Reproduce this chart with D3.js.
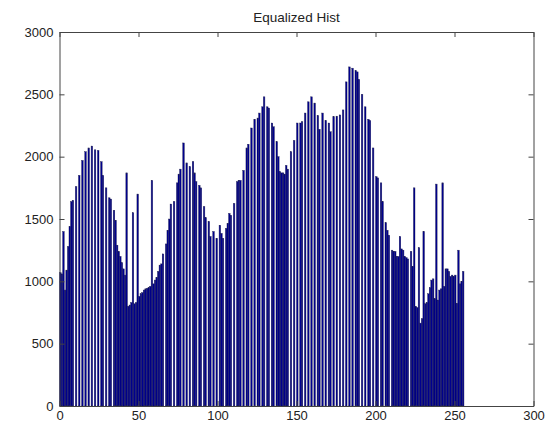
<!DOCTYPE html>
<html>
<head>
<meta charset="utf-8">
<script src="https://cdn.jsdelivr.net/npm/d3@7"></script>
<style>
  body { margin: 0; background: #fff; }
  svg { display: block; }
  text { font-family: "Liberation Sans", Arial, Helvetica, sans-serif; fill: #222; }
</style>
</head>
<body>
<svg id="chart" width="551" height="424"></svg>
<script>
// Histogram of an equalized 8-bit image: pixel count per gray level 0..255
const chartTitle = "Equalized Hist";
const counts = [
  1070,1060,1400,930,1090,1280,1440,1640,1650,0,1760,0,1850,0,1970,0,
  2040,0,2070,0,2085,0,2055,0,2050,0,1960,1850,0,1750,0,1670,
  1660,0,1570,1490,1290,1240,1200,1150,1100,1050,1870,800,810,830,1550,820,
  830,1700,880,900,910,930,940,945,950,960,1810,980,1010,1030,1080,1130,
  1140,1220,0,1300,1410,1500,1620,0,1640,0,1790,1860,1900,0,2110,0,
  1950,0,1920,0,1960,1870,1800,0,1770,1750,0,1600,1510,0,1480,1360,
  0,1400,0,1345,0,1450,1385,1345,0,1425,1465,1545,1530,0,1625,0,
  1800,1810,1810,0,1890,0,2070,2100,0,2230,0,2300,0,2310,2350,0,
  2400,2480,0,2400,2390,0,2270,2240,0,2120,2000,1880,1870,1870,1860,1930,
  1900,0,2040,0,2130,0,2270,0,2270,2280,0,2350,0,2440,0,2480,
  0,2430,0,2330,2220,0,2350,0,2290,0,2270,2200,0,2320,0,2325,
  0,2335,0,2375,0,2600,0,2720,0,2710,0,2690,2680,2620,0,2500,
  0,2400,0,2300,2290,0,2070,0,1840,1830,0,1790,1640,0,1470,1410,
  1370,0,1250,1240,1240,1200,1200,1360,1260,1250,1200,1190,1180,0,1240,1120,
  1750,800,790,1270,665,700,1400,820,830,900,950,1010,1020,860,1780,850,
  930,940,1790,960,1100,1100,1080,1040,1050,1040,1050,824,1250,980,1000,1080
];
const xTicks = [0, 50, 100, 150, 200, 250, 300];
const yTicks = [0, 500, 1000, 1500, 2000, 2500, 3000];

const svg = d3.select("#chart");
const margin = { left: 59.5, right: 17.5, top: 32, bottom: 18 };
const W = 551, H = 424;

const x = d3.scaleLinear().domain([0, 300]).range([margin.left, W - margin.right]);
const y = d3.scaleLinear().domain([0, 3000]).range([H - margin.bottom, margin.top]);

const levels = counts.map((c, i) => ({ level: i, count: c }));

// slight softening of the thin bar edges
const defs = svg.append("defs");
defs.append("filter").attr("id", "soft")
  .attr("x", "-2%").attr("y", "-2%").attr("width", "104%").attr("height", "104%")
  .append("feGaussianBlur").attr("stdDeviation", 0.45);

// bars, one per gray level
svg.append("g")
  .attr("filter", "url(#soft)")
  .selectAll("rect")
  .data(levels.filter(d => d.count > 0))
  .join("rect")
  .attr("x", d => x(d.level))
  .attr("width", d => x(d.level + 1) - x(d.level))
  .attr("y", d => y(d.count))
  .attr("height", d => y(0) - y(d.count))
  .attr("fill", "#00008f")
  .attr("stroke", "#202050")
  .attr("stroke-width", 0.4);

// axes box with inward ticks
function styleAxis(g) {
  g.selectAll(".domain").attr("stroke", "#444").attr("stroke-width", 1);
  g.selectAll(".tick line").attr("stroke", "#444");
  g.selectAll(".tick text").attr("font-size", 13).attr("fill", "#222")
    .attr("font-family", "'Liberation Sans', Arial, sans-serif");
}

const fmt = d3.format("d");

svg.append("g")
  .attr("transform", `translate(0,${y(0)})`)
  .call(d3.axisBottom(x).tickValues(xTicks).tickFormat(fmt).tickSize(-5).tickSizeOuter(0).tickPadding(5))
  .call(styleAxis);

svg.append("g")
  .attr("transform", `translate(0,${y(3000)})`)
  .call(d3.axisTop(x).tickValues(xTicks).tickSize(-5).tickSizeOuter(0).tickFormat(""))
  .call(styleAxis);

svg.append("g")
  .attr("transform", `translate(${x(0)},0)`)
  .call(d3.axisLeft(y).tickValues(yTicks).tickFormat(fmt).tickSize(-5).tickSizeOuter(0).tickPadding(6))
  .call(styleAxis);

svg.append("g")
  .attr("transform", `translate(${x(300)},0)`)
  .call(d3.axisRight(y).tickValues(yTicks).tickSize(-5).tickSizeOuter(0).tickFormat(""))
  .call(styleAxis);

// title
svg.append("text")
  .attr("x", (x(0) + x(300)) / 2)
  .attr("y", 22)
  .attr("text-anchor", "middle")
  .attr("font-size", 13.5)
  .text(chartTitle);
</script>
</body>
</html>
